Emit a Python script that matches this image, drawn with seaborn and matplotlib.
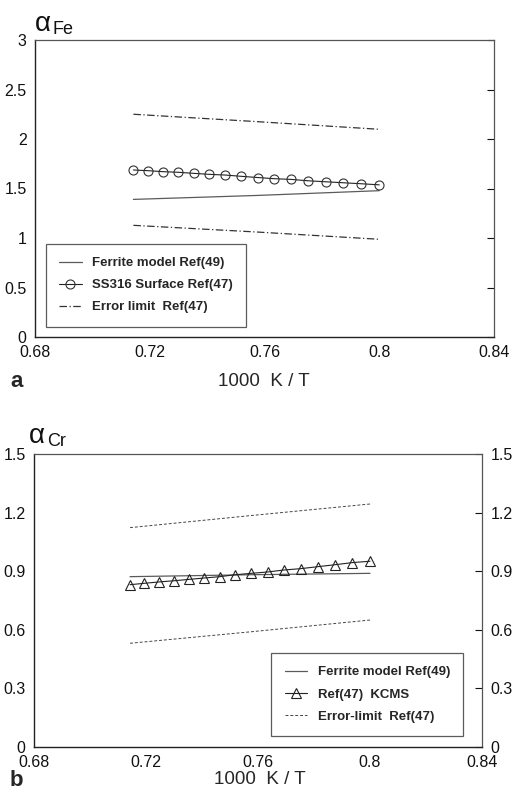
import matplotlib
matplotlib.use("Agg")
import matplotlib.pyplot as plt
import seaborn as sns
import pandas as pd

# ---- data ----
# 1000/T for T = 1400 ... 1250 K
x_inv_T = [0.7143, 0.7194, 0.7246, 0.7299, 0.7353, 0.7407, 0.7463, 0.7519,
           0.7576, 0.7634, 0.7692, 0.7752, 0.7813, 0.7874, 0.7937, 0.8000]

# panel a (Fe)
fe_ss316 = [1.687, 1.680, 1.670, 1.664, 1.653, 1.643, 1.636, 1.623,
            1.611, 1.599, 1.592, 1.578, 1.568, 1.558, 1.548, 1.537]
fe_ferrite_x = [0.7143, 0.7576, 0.8000]
fe_ferrite = [1.39, 1.43, 1.478]
fe_err_x = [0.7143, 0.7576, 0.8000]
fe_err_hi = [2.25, 2.175, 2.098]
fe_err_lo = [1.128, 1.06, 0.987]

# panel b (Cr)
cr_kcms = [0.831, 0.838, 0.845, 0.851, 0.858, 0.865, 0.872, 0.882,
           0.889, 0.896, 0.906, 0.913, 0.923, 0.933, 0.944, 0.951]
cr_ferrite_x = [0.7143, 0.7576, 0.8000]
cr_ferrite = [0.872, 0.882, 0.889]
cr_err_x = [0.7143, 0.7576, 0.8000]
cr_err_hi = [1.123, 1.185, 1.244]
cr_err_lo = [0.531, 0.590, 0.650]

x_ticks = [0.68, 0.72, 0.76, 0.80, 0.84]
x_tick_labels = ["0.68", "0.72", "0.76", "0.8", "0.84"]
fe_yticks = [0, 0.5, 1, 1.5, 2, 2.5, 3]
fe_ytick_labels = ["0", "0.5", "1", "1.5", "2", "2.5", "3"]
cr_yticks = [0, 0.3, 0.6, 0.9, 1.2, 1.5]
cr_ytick_labels = ["0", "0.3", "0.6", "0.9", "1.2", "1.5"]

# ---- style ----
sns.set_style("white")
plt.rcParams["font.family"] = ["Liberation Sans", "DejaVu Sans"]

W, H = 512, 794
fig = plt.figure(figsize=(W / 100, H / 100), dpi=100)

def frac_axes(left, top, right, bottom):
    return fig.add_axes([left / W, 1 - bottom / H, (right - left) / W, (bottom - top) / H])

ax1 = frac_axes(35, 40, 494, 337)
ax2 = frac_axes(34, 454, 482, 747)

line_gray = "#5a5a5a"
ms = 6.5

# panel a
sns.lineplot(x=fe_ferrite_x, y=fe_ferrite, ax=ax1, color=line_gray, lw=0.9,
             label="Ferrite model Ref(49)")
sns.lineplot(x=x_inv_T, y=fe_ss316, ax=ax1, color="#222222", lw=0.8,
             marker="o", markersize=ms, markerfacecolor="none",
             markeredgecolor="#333333", markeredgewidth=0.8,
             label="SS316 Surface Ref(47)")
sns.lineplot(x=fe_err_x, y=fe_err_hi, ax=ax1, color="#333333", lw=0.9,
             linestyle=(0, (6, 2, 1, 2)), label="Error limit  Ref(47)")
sns.lineplot(x=fe_err_x, y=fe_err_lo, ax=ax1, color="#333333", lw=0.9,
             linestyle=(0, (6, 2, 1, 2)))

# panel b
sns.lineplot(x=cr_ferrite_x, y=cr_ferrite, ax=ax2, color=line_gray, lw=0.9,
             label="Ferrite model Ref(49)")
sns.lineplot(x=x_inv_T, y=cr_kcms, ax=ax2, color="#222222", lw=0.8,
             marker="^", markersize=ms + 0.5, markerfacecolor="none",
             markeredgecolor="#222222", markeredgewidth=0.8,
             label="Ref(47)  KCMS")
sns.lineplot(x=cr_err_x, y=cr_err_hi, ax=ax2, color="#444444", lw=0.7,
             linestyle=(0, (3, 2)), label="Error-limit  Ref(47)")
sns.lineplot(x=cr_err_x, y=cr_err_lo, ax=ax2, color="#444444", lw=0.7,
             linestyle=(0, (3, 2)))

for ax, yt, ytl, ylim in [(ax1, fe_yticks, fe_ytick_labels, (0, 3)),
                          (ax2, cr_yticks, cr_ytick_labels, (0, 1.5))]:
    ax.set_xlim(0.68, 0.84)
    ax.set_ylim(*ylim)
    ax.set_xticks(x_ticks)
    ax.set_xticklabels(x_tick_labels)
    ax.set_yticks(yt)
    ax.set_yticklabels(ytl)
    ax.set_xlabel("")
    ax.set_ylabel("")
    for s in ["left", "bottom"]:
        ax.spines[s].set_color("#222222")
        ax.spines[s].set_linewidth(1.0)
    for s in ["top", "right"]:
        ax.spines[s].set_color("#555555")
        ax.spines[s].set_linewidth(0.9)
    ax.tick_params(axis="both", direction="in", length=5, width=0.8,
                   labelsize=11.5, colors="#111111", pad=6, right=True)

ax2.tick_params(axis="y", labelright=True)
ax1.tick_params(axis="y", labelright=False)

leg_kw = dict(frameon=True, fancybox=False, fontsize=9.5, handlelength=1.7,
              borderpad=1.0, labelspacing=0.75, handletextpad=0.8,
              borderaxespad=0)
leg1 = ax1.legend(loc="lower left", bbox_to_anchor=(0.024, 0.035), **leg_kw)
leg2 = ax2.legend(loc="lower right", bbox_to_anchor=(0.958, 0.038), **leg_kw)
for leg in (leg1, leg2):
    leg.get_frame().set_edgecolor("#333333")
    leg.get_frame().set_linewidth(0.9)
    for t in leg.get_texts():
        t.set_fontweight("bold")

# axis titles (alpha with subscript)
fig.text(35 / W, 1 - 24 / H, "α", fontsize=20, ha="left", va="center", color="#111111")
fig.text(53 / W, 1 - 30 / H, "Fe", fontsize=13, ha="left", va="center", color="#111111")
fig.text(29 / W, 1 - 436 / H, "α", fontsize=20, ha="left", va="center", color="#111111")
fig.text(47 / W, 1 - 442 / H, "Cr", fontsize=13, ha="left", va="center", color="#111111")
fig.text(264 / W, 1 - 382 / H, "1000  K / T", fontsize=13.5, ha="center", va="center")
fig.text(260 / W, 1 - 779 / H, "1000  K / T", fontsize=13.5, ha="center", va="center")
fig.text(10 / W, 1 - 382 / H, "a", fontsize=16, fontweight="bold", ha="left", va="center")
fig.text(10 / W, 1 - 780 / H, "b", fontsize=16, fontweight="bold", ha="left", va="center")

fig.savefig("out.png", dpi=100)
